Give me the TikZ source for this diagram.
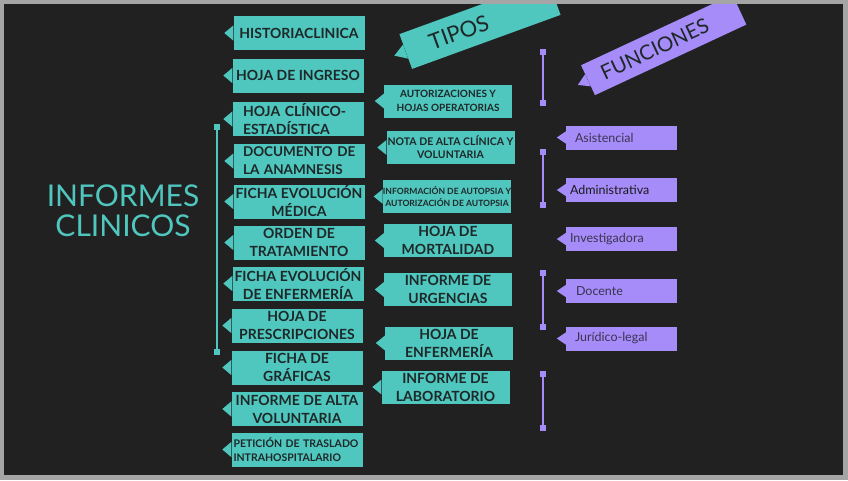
\documentclass[tikz,border=0pt]{standalone}
\usepackage{fontspec}
\setmainfont{Lato}
\usetikzlibrary{positioning,calc}

\definecolor{bgdark}{RGB}{33,33,33}
\definecolor{framegrey}{RGB}{165,165,165}
\definecolor{tealc}{RGB}{79,198,190}
\definecolor{lavc}{RGB}{165,140,248}
\definecolor{ink}{RGB}{30,40,40}
\definecolor{inkp}{RGB}{58,52,80}

\begin{document}
\begin{tikzpicture}[x=1pt, y=-1pt,
    tipo/.style={fill=tealc, minimum width=131pt, minimum height=34pt, inner sep=0pt, text=ink, align=center, font=\bfseries\fontsize{14}{18}\selectfont},
    subtipo/.style={tipo, minimum width=128pt, minimum height=33pt},
    func/.style={fill=lavc, minimum width=111pt, minimum height=24pt, inner sep=0pt, text=inkp, text width=103pt, align=left, font=\fontsize{12.5}{14}\selectfont},
    banner/.style={fill=#1, inner sep=0pt, text=ink},
    endsq/.style={fill=#1, minimum size=6pt, inner sep=0pt},
    barline/.style={draw=#1, line width=2pt}
]
\useasboundingbox (0,0) rectangle (848,480);
\fill[framegrey] (0,0) rectangle (848,480);
\fill[bgdark] (4,4) rectangle (843,475);

\begin{scope}
\clip (4,4) rectangle (843,475);

% titulo
\node[text=tealc, align=center, font=\fontsize{30}{30}\selectfont] (titulo) at (123,211) {INFORMES\\CLINICOS};

% columna izquierda
\node[tipo] (hc) at (299,33) {HISTORIACLINICA};
\node[tipo] (hi) at (298,75.5) {HOJA DE INGRESO};
\node[tipo, text width=110pt, align=left] (hce) at (298,119) {HOJA CLÍNICO-\\ESTADÍSTICA};
\node[tipo, text width=112pt, align=left, font=\bfseries\fontsize{13.5}{18}\selectfont] (doc) at (299,161) {DOCUMENTO~DE\\LA ANAMNESIS};
\node[tipo] (fem) at (299,201.5) {FICHA EVOLUCIÓN\\MÉDICA};
\node[tipo] (ot) at (299,242.5) {ORDEN DE\\TRATAMIENTO};
\node[tipo] (fee) at (298,283.5) {FICHA EVOLUCIÓN\\DE ENFERMERÍA};
\node[tipo] (hp) at (297,325.5) {HOJA DE\\PRESCRIPCIONES};
\node[tipo] (fg) at (297,367.5) {FICHA DE\\GRÁFICAS};
\node[tipo] (iav) at (297,409) {INFORME DE ALTA\\VOLUNTARIA};
\node[tipo, text width=127pt, align=left, font=\bfseries\fontsize{10.5}{14}\selectfont] (pt) at (297,449.5) {PETICIÓN DE TRASLADO\\INTRAHOSPITALARIO};

% columna de tipos
\node[subtipo, font=\bfseries\fontsize{10}{14}\selectfont] (aut) at (448,101) {AUTORIZACIONES Y\\HOJAS OPERATORIAS};
\node[subtipo, font=\bfseries\fontsize{10.5}{13}\selectfont] (nota) at (450.5,147.5) {NOTA DE ALTA CLÍNICA Y\\VOLUNTARIA};
\node[subtipo, font=\bfseries\fontsize{8.6}{12}\selectfont] (autop) at (447,196.5) {INFORMACIÓN DE AUTOPSIA Y\\AUTORIZACIÓN DE AUTOPSIA};
\node[subtipo] (hm) at (448,240.5) {HOJA DE\\MORTALIDAD};
\node[subtipo] (iu) at (448,289.5) {INFORME DE\\URGENCIAS};
\node[subtipo] (he) at (449,343) {HOJA DE\\ENFERMERÍA};
\node[subtipo] (il) at (445.5,387) {INFORME DE\\LABORATORIO};

% columna de funciones
\node[func] (asis) at (621.5,137.5) {\hspace*{5pt}Asistencial};
\node[func, text=black!90] (admin) at (621.5,190) {Administrativa};
\node[func] (inv) at (621.5,239) {Investigadora};
\node[func] (doce) at (621.5,291) {\hspace*{6pt}Docente};
\node[func] (jur) at (621.5,338.5) {\hspace*{5pt}Jurídico-legal};

% cintas
\node[banner=tealc, rotate=20, minimum width=158pt, minimum height=37pt, font=\fontsize{22}{22}\selectfont] (tipos) at (480,24.5) {TIPOS\hspace*{45pt}};
\node[banner=lavc, rotate=25, minimum width=167pt, minimum height=33pt, font=\fontsize{20.5}{21}\selectfont] (funciones) at (663.7,44.9) {FUNCIONES\hspace*{20pt}};

% puntas
\foreach \n in {hc,hi,hce,doc,fem,ot,fee,hp,fg,iav,pt,aut,nota,autop,hm,iu,he,il}
  \fill[tealc] ($(\n.north west)!0.28!(\n.south west)$) -- ($(\n.west)!-9pt!(\n.east)$) -- ($(\n.north west)!0.72!(\n.south west)$) -- cycle;
\foreach \n in {asis,admin,inv,doce,jur}
  \fill[lavc] ($(\n.north west)!0.25!(\n.south west)$) -- ($(\n.west)!-9pt!(\n.east)$) -- ($(\n.north west)!0.75!(\n.south west)$) -- cycle;
\fill[tealc] ($(tipos.north west)!0.3!(tipos.south west)$) -- ($(tipos.west)!-12pt!(tipos.east)$) -- ($(tipos.north west)!0.7!(tipos.south west)$) -- cycle;
\fill[lavc] ($(funciones.north west)!0.3!(funciones.south west)$) -- ($(funciones.west)!-11pt!(funciones.east)$) -- ($(funciones.north west)!0.7!(funciones.south west)$) -- cycle;

% corchetes
\node[endsq=tealc] (ta) at (217,127) {};
\node[endsq=tealc] (tb) at (217,352) {};
\draw[barline=tealc] (ta) -- (tb);
\foreach \i/\ya/\yb in {1/52/103, 2/152/205, 3/273/327, 4/374/428} {
  \node[endsq=lavc] (pa\i) at (543,\ya) {};
  \node[endsq=lavc] (pb\i) at (543,\yb) {};
  \draw[barline=lavc] (pa\i) -- (pb\i);
}
\end{scope}
\end{tikzpicture}
\end{document}
